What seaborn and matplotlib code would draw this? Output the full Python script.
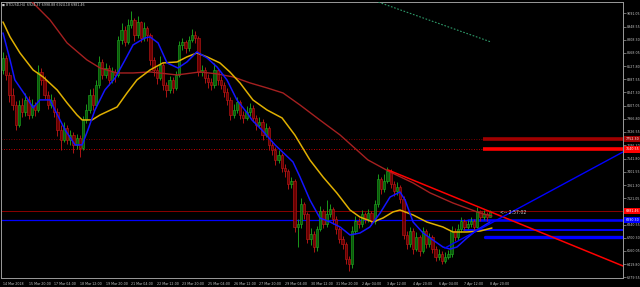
import matplotlib
matplotlib.use("Agg")
import matplotlib.pyplot as plt
import seaborn as sns
import numpy as np
import pandas as pd

# ---------------- data ----------------
title_text = "BTCUSD,H4  6924.37 6998.88 6924.18 6981.46"
timer_text = "<-- 2:57:02"

first_open = 8485
closes = [8612, 8432, 8221, 8115, 7903, 8115, 8041, 8168, 8009, 8115,
          8062, 8464, 8379, 8221, 8115, 8168, 8041, 7850, 7745, 7871,
          7745, 7797, 7692, 7766, 7660, 7956, 8062, 8221, 8115, 8326,
          8570, 8432, 8506, 8379, 8464, 8432, 8803, 8908, 8782, 8961,
          9014, 8856, 8993, 8824, 8930, 8856, 8591, 8485, 8400, 8538,
          8326, 8274, 8379, 8295, 8432, 8750, 8782, 8718, 8803, 8856,
          8824, 8464, 8485, 8400, 8358, 8326, 8485, 8379, 8326, 8252,
          8168, 8009, 8062, 8147, 8009, 7977, 8041, 8083, 7977, 7903,
          7935, 7797, 7871, 7692, 7639, 7533, 7586, 7448, 7406, 7268,
          7300, 6813, 6845, 7057, 6951, 6686, 6739, 6601, 6792, 6983,
          6845, 6951, 7004, 6898, 6792, 6686, 6633, 6475, 6422, 6771,
          6877, 6845, 6951, 6898, 6962, 6877, 7057, 7321, 7215, 7300,
          7406, 7268, 7194, 7236, 7110, 6728, 6633, 6771, 6580, 6707,
          6559, 6771, 6633, 6707, 6580, 6496, 6527, 6453, 6496, 6527,
          6771, 6707, 6792, 6877, 6813, 6845, 6877, 6813, 6983, 6920,
          6950, 6924.37, 6981.46]
highs = [8680, 8650, 8470, 8300, 8160, 8170, 8190, 8240, 8210, 8180,
         8150, 8540, 8510, 8420, 8260, 8230, 8200, 8080, 7900, 7930,
         7900, 7850, 7830, 7810, 7790, 8000, 8120, 8280, 8300, 8380,
         8640, 8600, 8560, 8540, 8520, 8500, 8850, 8990, 8950, 9030,
         9110, 9040, 9060, 9010, 9000, 8960, 8880, 8620, 8520, 8640,
         8570, 8360, 8420, 8410, 8480, 8800, 8830, 8810, 8850, 8920,
         8900, 8850, 8540, 8520, 8440, 8400, 8560, 8510, 8420, 8360,
         8290, 8200, 8120, 8200, 8170, 8050, 8100, 8130, 8110, 8010,
         7990, 7960, 7920, 7890, 7730, 7670, 7640, 7600, 7490, 7430,
         7350, 7330, 6900, 7120, 7080, 6980, 6800, 6770, 6830, 7040,
         7010, 7100, 7060, 7030, 6930, 6820, 6720, 6660, 6510, 6830,
         6930, 6910, 7000, 6980, 7010, 6990, 7100, 7380, 7350, 7380,
         7450, 7430, 7300, 7290, 7260, 7140, 6770, 6820, 6800, 6760,
         6730, 6820, 6790, 6750, 6730, 6610, 6580, 6560, 6550, 6570,
         6830, 6800, 6850, 6920, 6900, 6890, 6920, 6900, 7030, 7000,
         7000, 6980, 6998.88]
lows = [8440, 8380, 8150, 8060, 7850, 7880, 7990, 8000, 7960, 7980,
        8000, 8040, 8330, 8180, 8070, 8080, 7990, 7780, 7640, 7720,
        7700, 7690, 7600, 7650, 7560, 7630, 7920, 8030, 8060, 8090,
        8300, 8390, 8400, 8330, 8350, 8360, 8410, 8760, 8740, 8760,
        8930, 8800, 8830, 8780, 8800, 8800, 8540, 8420, 8340, 8380,
        8270, 8200, 8240, 8240, 8270, 8410, 8700, 8670, 8690, 8780,
        8770, 8420, 8420, 8350, 8300, 8270, 8300, 8330, 8280, 8200,
        8110, 7950, 7980, 8030, 7960, 7920, 7950, 8000, 7930, 7850,
        7870, 7740, 7770, 7640, 7580, 7480, 7500, 7400, 7350, 7220,
        7230, 6760, 6600, 6800, 6900, 6640, 6620, 6550, 6560, 6770,
        6800, 6820, 6920, 6850, 6740, 6640, 6580, 6420, 6350, 6380,
        6740, 6800, 6820, 6860, 6870, 6840, 6850, 7030, 7170, 7190,
        7280, 7230, 7150, 7160, 7070, 6690, 6580, 6600, 6530, 6560,
        6510, 6540, 6590, 6600, 6540, 6450, 6460, 6420, 6430, 6470,
        6500, 6670, 6680, 6760, 6780, 6790, 6820, 6780, 6800, 6880,
        6890, 6880, 6924.18]

# moving averages, sampled (bar index, price)
ma_fast_bar = [0, 2.2, 3.7, 6.9, 9.4, 11.5, 14.7, 16.2, 19.4, 22.5, 24.7, 26.5, 28.7, 31.8, 35.0,
               38.1, 40.6, 44.3, 45.9, 48.4, 51.2, 54.6, 57.4, 60.5, 63.7, 66.8, 69.9, 73.0, 76.2,
               77.7, 80.8, 84.9, 90.5, 92.7, 95.8, 98.9, 102.1, 105.2, 108.3, 111.4, 114.5, 117.7,
               120.8, 123.9, 125.5, 128.0, 131.1, 134.2, 137.3, 139.5, 141.7, 144.8, 147.9, 152.0]
ma_fast_val = [8881, 8594, 8381, 8221, 8083, 8168, 8168, 8061, 7848, 7689, 7689, 7848, 8061, 8274, 8402,
               8594, 8754, 8828, 8839, 8775, 8562, 8508, 8572, 8679, 8615, 8519, 8381, 8168, 8029,
               7955, 7848, 7689, 7508, 7347, 7102, 6911, 6868, 6815, 6730, 6751, 6815, 6964,
               7134, 7188, 7102, 6868, 6751, 6676, 6602, 6580, 6602, 6698, 6783, 6868]
ma_mid_bar = [0, 2.2, 5.3, 9.4, 12.5, 16.9, 20.0, 23.1, 24.7, 27.8, 30.3, 35.6, 38.7, 41.8, 45.9,
              49.9, 54.3, 57.4, 60.5, 63.7, 67.7, 70.8, 74.0, 78.0, 82.4, 87.1, 91.1, 95.8, 99.9,
              104.2, 108.3, 111.4, 115.5, 118.6, 121.7, 123.9, 128.0, 132.3, 137.3, 140.4, 144.8,
              148.9, 152.6]
ma_mid_val = [8998, 8839, 8668, 8487, 8413, 8274, 8136, 8008, 7955, 7955, 8008, 8093, 8242, 8381, 8487,
              8562, 8572, 8626, 8668, 8626, 8562, 8466, 8348, 8168, 8061, 7976, 7794, 7528, 7347,
              7177, 6996, 6921, 6868, 6911, 6975, 6996, 6943, 6868, 6815, 6762, 6762,
              6772, 6804]
ma_slow_bar = [6.0, 9.1, 14.7, 20.0, 26.2, 30.3, 35.6, 40.6, 45.9, 54.3, 61.5, 66.8, 71.8, 77.1,
               82.4, 87.4, 92.7, 98.9, 105.2, 113.9, 120.8, 128.0, 133.3, 140.4, 148.9, 152.6]
ma_slow_val = [9400, 9211, 9019, 8775, 8594, 8508, 8455, 8455, 8466, 8434, 8466, 8445, 8413, 8349,
               8296, 8242, 8114, 7954, 7795, 7529, 7401, 7284, 7178, 7071, 6964, 6932]

# trend lines (bar index, price)
red_trend_bar = [120.2, 193.5]
red_trend_val = [7422, 6400]
blue_trend_bar = [137.9, 193.5]
blue_trend_val = [6591, 7614]
green_trend_bar = [115.2, 152.3]
green_trend_val = [9233, 8785]

# horizontal levels
zone_top = 7752.30
zone_low = 7640.55
bid_price = 6981.46
blue_level1 = 6890.30
blue_level2 = 6783.0
blue_level3 = 6709.0

time_labels = ["14 Mar 2018", "15 Mar 20:00", "17 Mar 04:00", "18 Mar 12:00", "19 Mar 20:00",
               "21 Mar 04:00", "22 Mar 12:00", "23 Mar 20:00", "25 Mar 04:00", "26 Mar 12:00",
               "27 Mar 20:00", "29 Mar 04:00", "30 Mar 12:00", "31 Mar 20:00", "2 Apr 04:00",
               "3 Apr 12:00", "4 Apr 20:00", "6 Apr 04:00", "7 Apr 12:00", "8 Apr 20:00"]
time_label_bars = list(range(0, 153, 8))
price_ticks = [9091.05, 8948.55, 8808.30, 8668.05, 8527.80, 8387.55, 8247.30, 8107.05, 7966.80,
               7826.55, 7686.30, 7541.80, 7401.55, 7261.30, 7121.05, 6840.55, 6700.30,
               6560.05, 6419.80, 6279.55]

# ---------------- style ----------------
sns.set_style("dark", {"axes.facecolor": "black", "figure.facecolor": "black"})
plt.rcParams['font.family'] = ['DejaVu Sans']

W, H = 640, 287
fig = plt.figure(figsize=(W / 100, H / 100), dpi=100, facecolor="black")
ax = fig.add_axes([1 / W, 1 - 278 / H, 622 / W, 276.5 / H])
ax.set_facecolor("black")

XMIN, XMAX = -0.62, 193.5
ax.set_xlim(XMIN, XMAX)
ax.set_ylim(6272, 9216)

# ---------------- candles ----------------
opens = [first_open] + closes[:-1]
xb = np.arange(len(closes))
o = np.array(opens, float); c = np.array(closes, float)
h = np.array(highs, float); l = np.array(lows, float)
up = c >= o
bull_edge, bull_body = "#1fb01f", "#0a5a0a"
bear_edge, bear_body = "#c81818", "#6a0000"
ax.vlines(xb[up], l[up], h[up], color=bull_edge, lw=0.6, zorder=3)
ax.vlines(xb[~up], l[~up], h[~up], color=bear_edge, lw=0.6, zorder=3)
bb = np.minimum(o, c)
bh = np.maximum(np.abs(c - o), 5)
ax.bar(xb[up], bh[up], bottom=bb[up], width=0.72, color=bull_body, edgecolor=bull_edge, lw=0.4, zorder=4)
ax.bar(xb[~up], bh[~up], bottom=bb[~up], width=0.72, color=bear_body, edgecolor=bear_edge, lw=0.4, zorder=4)

# ---------------- horizontal levels ----------------
seg_start = 149.8
for lvl, col in [(zone_top, "#a00000"), (zone_low, "#ff0000")]:
    ax.plot([XMIN, seg_start], [lvl, lvl], color=col, lw=0.6, ls=(0, (1, 2)), zorder=2)
    ax.plot([seg_start, XMAX], [lvl, lvl], color=col, lw=2.6, solid_capstyle="butt", zorder=2)
ax.axhline(bid_price, color="#8b0000", lw=0.7, zorder=2)
ax.axhline(blue_level1, color="#0000ff", lw=0.9, zorder=2)
ax.plot([145.0, XMAX], [blue_level1, blue_level1], color="#0000ff", lw=1.8, zorder=2)
ax.plot([144.0, XMAX], [blue_level2, blue_level2], color="#0000ff", lw=1.4, zorder=2)
ax.plot([150.5, XMAX], [blue_level3, blue_level3], color="#0000ff", lw=2.4, zorder=2)

# ---------------- moving averages ----------------
sns.lineplot(x=ma_slow_bar, y=ma_slow_val, ax=ax, color="#a52020", lw=1.0, estimator=None, zorder=5)
sns.lineplot(x=ma_mid_bar, y=ma_mid_val, ax=ax, color="#e0b000", lw=1.1, estimator=None, zorder=5)
sns.lineplot(x=ma_fast_bar, y=ma_fast_val, ax=ax, color="#1414ff", lw=1.1, estimator=None, zorder=5)

# ---------------- trend lines ----------------
sns.lineplot(x=red_trend_bar, y=red_trend_val, ax=ax, color="#ff0000", lw=1.1, estimator=None, zorder=6)
sns.lineplot(x=blue_trend_bar, y=blue_trend_val, ax=ax, color="#0000ff", lw=1.0, estimator=None, zorder=6)
ax.plot(green_trend_bar, green_trend_val, color="#2e9a6a", lw=0.8, ls=(0, (1.5, 1.5)), zorder=6)

# ---------------- axes, ticks ----------------
for side in ["left", "top", "right", "bottom"]:
    ax.spines[side].set_visible(True)
    ax.spines[side].set_color("#9a9a9a")
    ax.spines[side].set_linewidth(0.7)
ax.grid(False)
ax.yaxis.tick_right()
ax.set_yticks(price_ticks)
ax.set_yticklabels([f"{p:.2f}" for p in price_ticks])
ax.set_xticks(time_label_bars)
ax.set_xticklabels(time_labels)
ax.tick_params(axis="both", colors="#9a9a9a", labelcolor="#c8c8c8", labelsize=2.3,
               length=2, width=0.5, direction="out", pad=0.8)
for lbl in ax.get_xticklabels():
    lbl.set_horizontalalignment("left")
ax.set_xlabel(""); ax.set_ylabel("")

# price-axis flags
ytr = ax.get_yaxis_transform()
for lvl, txt, bg in [(zone_top, "7752.30", "#a00000"), (zone_low, "7640.55", "#ff0000"),
                     (bid_price, "6981.46", "#ff0000"), (blue_level1, "6890.30", "#0000ff")]:
    ax.text(1.004, lvl, txt, transform=ytr, fontsize=2.3, color="white", ha="left", va="center",
            bbox=dict(boxstyle="square,pad=0.35", fc=bg, ec=bg, lw=0), clip_on=False, zorder=10)

# countdown
ax.text(155.0, 6965, timer_text, fontsize=3.3, color="#d0d0d0", ha="left", va="center", zorder=10)

# title
fig.text(1.5 / W, 1 - 4.5 / H, "\u25a0", fontsize=2.2, color="#d0d0d0", ha="left", va="center")
fig.text(6 / W, 1 - 4.5 / H, title_text, fontsize=2.3, color="#d0d0d0", ha="left", va="center")

fig.savefig("out.png", dpi=100, facecolor="black")
